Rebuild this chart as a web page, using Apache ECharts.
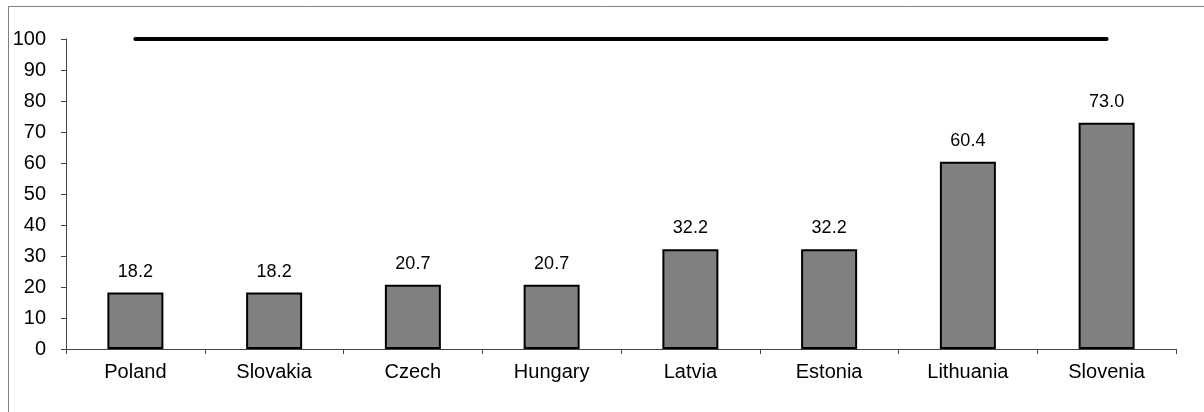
<!DOCTYPE html>
<html>
<head>
<meta charset="utf-8">
<script src="https://cdn.jsdelivr.net/npm/echarts@6/dist/echarts.min.js"></script>
<style>
  html, body { margin: 0; padding: 0; background: #fff; }
  #chart { width: 1204px; height: 412px; }
</style>
</head>
<body>
<div id="chart"></div>
<script>
// Country categories and their values
const countries = ['Poland', 'Slovakia', 'Czech', 'Hungary', 'Latvia', 'Estonia', 'Lithuania', 'Slovenia'];
const values = [18.2, 18.2, 20.7, 20.7, 32.2, 32.2, 60.4, 73.0];
// Reference level drawn as a thick line across the chart
const reference = [100, 100, 100, 100, 100, 100, 100, 100];
const yTicks = { min: 0, max: 100, interval: 10 };

const chart = echarts.init(document.getElementById('chart'), null, { renderer: 'canvas' });
const font = 'Liberation Sans, Arial, Helvetica, sans-serif';

chart.setOption({
  animation: false,
  backgroundColor: '#fff',
  graphic: [{
    type: 'rect',
    shape: { x: 8.5, y: 6.5, width: 1400, height: 600 },
    style: { fill: 'none', stroke: '#7f7f7f', lineWidth: 1 },
    silent: true
  }],
  grid: { left: 66, right: 28, top: 39, bottom: 63 },
  xAxis: {
    type: 'category',
    data: countries,
    boundaryGap: true,
    axisLine: { show: true, lineStyle: { color: '#444', width: 1 } },
    axisTick: { show: true, length: 5, lineStyle: { color: '#444' } },
    axisLabel: { color: '#000', fontSize: 20, fontFamily: font, margin: 13 },
    splitLine: { show: false }
  },
  yAxis: {
    type: 'value',
    min: yTicks.min,
    max: yTicks.max,
    interval: yTicks.interval,
    axisLine: { show: true, lineStyle: { color: '#444', width: 1 } },
    axisTick: { show: true, length: 5, lineStyle: { color: '#444' } },
    axisLabel: { color: '#000', fontSize: 20, fontFamily: font, margin: 20 },
    splitLine: { show: false }
  },
  series: [
    {
      type: 'bar',
      data: values,
      barWidth: 56,
      itemStyle: { color: '#808080', borderColor: '#000', borderWidth: 2 },
      label: {
        show: true,
        position: 'top',
        distance: 12,
        color: '#000',
        fontSize: 18,
        fontFamily: font,
        formatter: p => p.value.toFixed(1)
      }
    },
    {
      type: 'line',
      data: reference,
      symbol: 'none',
      lineStyle: { color: '#000', width: 4, cap: 'round' },
      z: 5
    }
  ]
});
</script>
</body>
</html>
